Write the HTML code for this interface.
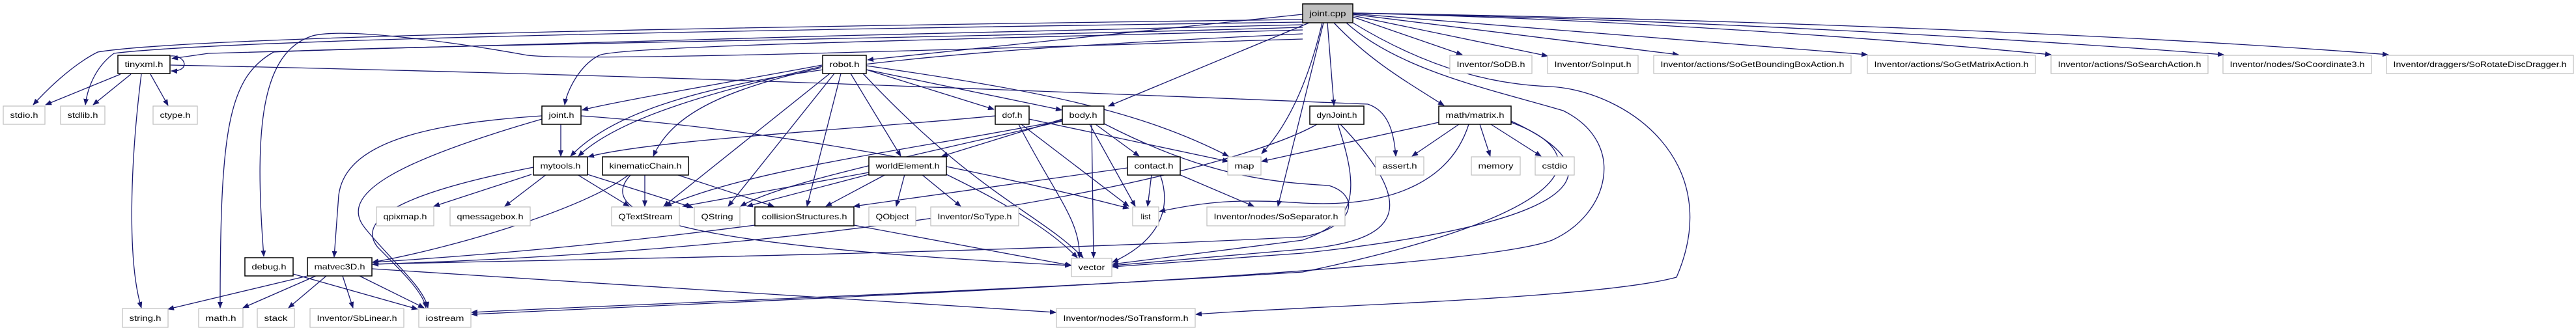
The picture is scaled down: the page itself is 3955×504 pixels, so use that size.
<!DOCTYPE html>
<html><head><meta charset="utf-8"><style>
html,body{margin:0;padding:0;background:#fff;}
svg{display:block;}
text{font-family:"Liberation Sans",sans-serif;font-size:12px;fill:#000;}
.e{fill:none;stroke:#191970;stroke-width:1.3;marker-end:url(#a);}
.b{fill:#fff;stroke:#000;stroke-width:1.5;}
.g{fill:#fff;stroke:#bfbfbf;stroke-width:1.2;}
</style></head><body>
<svg width="3955" height="504" viewBox="0 0 3955 504" xmlns="http://www.w3.org/2000/svg">
<defs><marker id="a" markerWidth="10" markerHeight="8" refX="9" refY="4" orient="auto" markerUnits="userSpaceOnUse"><path d="M0,0 L10,4 L0,8 z" fill="#191970"/></marker></defs>
<g>
<!-- from joint.cpp left -->
<path class="e" d="M2000,30 C1200,40 300,55 150,80 C110,100 70,140 51,161"/>
<path class="e" d="M2000,34 C1200,45 350,60 175,82 C150,100 135,130 131,161"/>
<path class="e" d="M2000,38 C1500,50 400,75 320,82 L264,90"/>
<path class="e" d="M2000,42 C1400,60 600,70 420,80 C350,120 338,200 338,473"/>
<path class="e" d="M2000,60 C1500,75 900,95 810,85 C700,65 530,42 480,55 C400,80 390,200 405,394"/>
<path class="e" d="M2000,46 C1500,60 950,70 920,85 C890,100 870,140 867,161"/>
<path class="e" d="M2000,52 C1400,80 1000,110 876,240"/>
<path class="e" d="M2000,22 L1332,92"/>
<path class="e" d="M2010,35 L1702,163"/>
<path class="e" d="M2038,35 L2048,162"/>
<path class="e" d="M2048,35 C2100,90 2150,120 2217,162"/>
<path class="e" d="M2030,35 C2010,120 1980,190 1937,236"/>
<path class="e" d="M2032,35 L1962,317"/>
<path class="e" d="M2067,35 C2150,110 2300,140 2400,170 C2500,220 2470,330 2383,369 C2250,420 1200,460 724,483"/>
<path class="e" d="M2077,35 C2200,110 2300,130 2380,133 C2500,140 2650,250 2574,426 C2450,460 2000,470 1836,483"/>
<!-- joint.cpp right -->
<path class="e" d="M2077,26 L2245,84"/>
<path class="e" d="M2077,24 L2376,86"/>
<path class="e" d="M2077,22 L2577,84"/>
<path class="e" d="M2077,21 L2867,84"/>
<path class="e" d="M2077,20 C2500,30 2900,60 3149,84"/>
<path class="e" d="M2077,20 C2600,30 3100,60 3414,84"/>
<path class="e" d="M2077,20 C2700,30 3300,55 3667,84"/>
<!-- tinyxml -->
<path class="e" d="M262,86 C285,84 294,110 263,109"/>
<path class="e" d="M185,114 L70,161"/>
<path class="e" d="M201,114 L143,161"/>
<path class="e" d="M231,114 L258,162"/>
<path class="e" d="M217,114 C200,250 195,400 217,473"/>
<path class="e" d="M262,100 C1000,115 1600,140 2100,160 C2130,170 2140,200 2143,240"/>
<!-- joint.h -->
<path class="e" d="M861,191 L861,240"/>
<path class="e" d="M832,178 C650,190 530,220 520,300 L513,395"/>
<path class="e" d="M832,183 C600,250 520,300 560,350 C600,400 650,440 657,473"/>
<path class="e" d="M892,178 C1200,200 1500,260 1733,320"/>
<path class="e" d="M1262,100 C1100,130 950,155 894,169"/>
<path class="e" d="M1262,102 C1100,140 950,180 888,240"/>
<path class="e" d="M1528,178 C1300,200 1000,215 903,241"/>
<!-- mytools -->
<path class="e" d="M816,268 L666,317"/>
<path class="e" d="M839,268 L775,317"/>
<path class="e" d="M886,268 L966,317"/>
<path class="e" d="M902,268 L1064,319"/>
<path class="e" d="M819,257 C650,290 540,330 580,380 C620,420 650,450 654,473"/>
<!-- kinematicChain -->
<path class="e" d="M966,268 C900,320 700,380 572,403"/>
<path class="e" d="M990,268 L990,317"/>
<path class="e" d="M969,268 C900,340 1100,380 1644,408"/>
<path class="e" d="M1038,268 L1188,317"/>
<path class="e" d="M1261,104 C1100,140 1030,180 1003,240"/>
<!-- matvec3D -->
<path class="e" d="M472,424 L258,475"/>
<path class="e" d="M485,424 L373,473"/>
<path class="e" d="M501,424 L443,473"/>
<path class="e" d="M526,424 L542,473"/>
<path class="e" d="M552,424 L651,473"/>
<path class="e" d="M571,413 L1621,480"/>
<path class="e" d="M450,421 L641,475"/>
<path class="e" d="M1159,346 C900,380 700,395 572,403"/>
<path class="e" d="M1311,346 L1645,408"/>
<!-- robot -->
<path class="e" d="M1330,107 L1526,168"/>
<path class="e" d="M1330,107 L1630,169"/>
<path class="e" d="M1330,101 C1600,140 1750,170 1886,240"/>
<path class="e" d="M1306,113 L1383,240"/>
<path class="e" d="M1291,113 L1239,317"/>
<path class="e" d="M1281,113 L1118,317"/>
<path class="e" d="M1274,113 L1019,317"/>
<path class="e" d="M1325,113 C1500,300 1600,330 1663,396"/>
<!-- dof -->
<path class="e" d="M1568,191 L1733,317"/>
<path class="e" d="M1564,191 C1620,300 1660,340 1657,396"/>
<path class="e" d="M1580,183 L1886,248"/>
<!-- body -->
<path class="e" d="M1631,183 L1446,240"/>
<path class="e" d="M1631,185 C1400,230 1150,260 1022,317"/>
<path class="e" d="M1631,186 C1400,240 1200,280 1137,317"/>
<path class="e" d="M1682,191 L1749,240"/>
<path class="e" d="M1673,191 L1743,317"/>
<path class="e" d="M1676,191 L1679,396"/>
<path class="e" d="M1695,190 C1850,270 1950,280 2040,285 C2090,300 2080,350 2000,364 C1500,390 800,400 572,406"/>
<!-- worldElement -->
<path class="e" d="M1334,265 L1048,317"/>
<path class="e" d="M1334,268 L1147,317"/>
<path class="e" d="M1360,268 L1268,317"/>
<path class="e" d="M1389,268 L1376,317"/>
<path class="e" d="M1415,268 L1475,317"/>
<path class="e" d="M1453,268 C1560,320 1620,360 1654,396"/>
<!-- contact -->
<path class="e" d="M1731,258 L1311,317"/>
<path class="e" d="M1768,268 L1762,317"/>
<path class="e" d="M1810,268 L1925,317"/>
<path class="e" d="M1781,268 C1800,320 1780,370 1708,403"/>
<!-- matrix -->
<path class="e" d="M2209,188 L1937,248"/>
<path class="e" d="M2240,191 L2168,240"/>
<path class="e" d="M2272,191 L2288,240"/>
<path class="e" d="M2289,191 L2366,240"/>
<path class="e" d="M2255,191 C2230,270 2150,320 2000,312 C1900,305 1850,310 1780,325"/>
<path class="e" d="M2320,186 C2480,260 2450,340 2000,389 L1708,410"/>
<path class="e" d="M2320,188 C2460,240 2420,330 2000,418 C1500,450 900,470 724,480"/>
<!-- dynjoint -->
<path class="e" d="M2022,191 C1900,260 1400,380 572,406"/>
<path class="e" d="M2054,191 C2090,300 2080,340 2000,369 L1708,406"/>
<path class="e" d="M2058,191 C2180,320 2150,370 2000,383 L1708,408"/>
</g>
<g>
<rect x="2000" y="6" width="77" height="29" fill="#bfbfbf" stroke="#000" stroke-width="1.5"/><text x="2038.5" y="25" text-anchor="middle" textLength="56" lengthAdjust="spacingAndGlyphs">joint.cpp</text>
<rect class="b" x="181" y="85" width="80" height="28"/><text x="221" y="103" text-anchor="middle" textLength="59" lengthAdjust="spacingAndGlyphs">tinyxml.h</text>
<rect class="b" x="1263" y="85" width="67" height="28"/><text x="1296.5" y="103" text-anchor="middle" textLength="46" lengthAdjust="spacingAndGlyphs">robot.h</text>
<rect class="g" x="2226" y="85" width="126" height="28"/><text x="2289" y="103" text-anchor="middle" textLength="105" lengthAdjust="spacingAndGlyphs">Inventor/SoDB.h</text>
<rect class="g" x="2376" y="85" width="139" height="28"/><text x="2445.5" y="103" text-anchor="middle" textLength="118" lengthAdjust="spacingAndGlyphs">Inventor/SoInput.h</text>
<rect class="g" x="2539" y="85" width="303" height="28"/><text x="2690.5" y="103" text-anchor="middle" textLength="282" lengthAdjust="spacingAndGlyphs">Inventor/actions/SoGetBoundingBoxAction.h</text>
<rect class="g" x="2867" y="85" width="258" height="28"/><text x="2996" y="103" text-anchor="middle" textLength="237" lengthAdjust="spacingAndGlyphs">Inventor/actions/SoGetMatrixAction.h</text>
<rect class="g" x="3149" y="85" width="241" height="28"/><text x="3269.5" y="103" text-anchor="middle" textLength="220" lengthAdjust="spacingAndGlyphs">Inventor/actions/SoSearchAction.h</text>
<rect class="g" x="3413" y="85" width="228" height="28"/><text x="3527" y="103" text-anchor="middle" textLength="207" lengthAdjust="spacingAndGlyphs">Inventor/nodes/SoCoordinate3.h</text>
<rect class="g" x="3664" y="85" width="287" height="28"/><text x="3807.5" y="103" text-anchor="middle" textLength="266" lengthAdjust="spacingAndGlyphs">Inventor/draggers/SoRotateDiscDragger.h</text>

<rect class="g" x="5" y="163" width="64" height="28"/><text x="37" y="181" text-anchor="middle" textLength="43" lengthAdjust="spacingAndGlyphs">stdio.h</text>
<rect class="g" x="93" y="163" width="68" height="28"/><text x="127" y="181" text-anchor="middle" textLength="47" lengthAdjust="spacingAndGlyphs">stdlib.h</text>
<rect class="g" x="235" y="163" width="68" height="28"/><text x="269" y="181" text-anchor="middle" textLength="47" lengthAdjust="spacingAndGlyphs">ctype.h</text>
<rect class="b" x="832" y="163" width="60" height="28"/><text x="862" y="181" text-anchor="middle" textLength="39" lengthAdjust="spacingAndGlyphs">joint.h</text>
<rect class="b" x="1528" y="163" width="52" height="28"/><text x="1554" y="181" text-anchor="middle" textLength="31" lengthAdjust="spacingAndGlyphs">dof.h</text>
<rect class="b" x="1631" y="163" width="64" height="28"/><text x="1663" y="181" text-anchor="middle" textLength="43" lengthAdjust="spacingAndGlyphs">body.h</text>
<rect class="b" x="2011" y="163" width="83" height="28"/><text x="2052.5" y="181" text-anchor="middle" textLength="62" lengthAdjust="spacingAndGlyphs">dynJoint.h</text>
<rect class="b" x="2209" y="163" width="111" height="28"/><text x="2264.5" y="181" text-anchor="middle" textLength="90" lengthAdjust="spacingAndGlyphs">math/matrix.h</text>

<rect class="b" x="819" y="241" width="83" height="28"/><text x="860.5" y="259" text-anchor="middle" textLength="62" lengthAdjust="spacingAndGlyphs">mytools.h</text>
<rect class="b" x="925" y="241" width="132" height="28"/><text x="991" y="259" text-anchor="middle" textLength="111" lengthAdjust="spacingAndGlyphs">kinematicChain.h</text>
<rect class="b" x="1334" y="241" width="119" height="28"/><text x="1393.5" y="259" text-anchor="middle" textLength="98" lengthAdjust="spacingAndGlyphs">worldElement.h</text>
<rect class="b" x="1731" y="241" width="81" height="28"/><text x="1771.5" y="259" text-anchor="middle" textLength="60" lengthAdjust="spacingAndGlyphs">contact.h</text>
<rect class="g" x="1885" y="241" width="51" height="28"/><text x="1910.5" y="259" text-anchor="middle" textLength="30" lengthAdjust="spacingAndGlyphs">map</text>
<rect class="g" x="2112" y="241" width="74" height="28"/><text x="2149" y="259" text-anchor="middle" textLength="53" lengthAdjust="spacingAndGlyphs">assert.h</text>
<rect class="g" x="2259" y="241" width="75" height="28"/><text x="2296.5" y="259" text-anchor="middle" textLength="54" lengthAdjust="spacingAndGlyphs">memory</text>
<rect class="g" x="2357" y="241" width="60" height="28"/><text x="2387" y="259" text-anchor="middle" textLength="39" lengthAdjust="spacingAndGlyphs">cstdio</text>

<rect class="g" x="578" y="318" width="88" height="29"/><text x="622" y="337" text-anchor="middle" textLength="67" lengthAdjust="spacingAndGlyphs">qpixmap.h</text>
<rect class="g" x="691" y="318" width="123" height="29"/><text x="752.5" y="337" text-anchor="middle" textLength="102" lengthAdjust="spacingAndGlyphs">qmessagebox.h</text>
<rect class="g" x="939" y="318" width="104" height="29"/><text x="991" y="337" text-anchor="middle" textLength="83" lengthAdjust="spacingAndGlyphs">QTextStream</text>
<rect class="g" x="1066" y="318" width="70" height="29"/><text x="1101" y="337" text-anchor="middle" textLength="49" lengthAdjust="spacingAndGlyphs">QString</text>
<rect class="b" x="1159" y="318" width="152" height="29"/><text x="1235" y="337" text-anchor="middle" textLength="131" lengthAdjust="spacingAndGlyphs">collisionStructures.h</text>
<rect class="g" x="1334" y="318" width="72" height="29"/><text x="1370" y="337" text-anchor="middle" textLength="51" lengthAdjust="spacingAndGlyphs">QObject</text>
<rect class="g" x="1429" y="318" width="135" height="29"/><text x="1496.5" y="337" text-anchor="middle" textLength="114" lengthAdjust="spacingAndGlyphs">Inventor/SoType.h</text>
<rect class="g" x="1739" y="318" width="40" height="29"/><text x="1759" y="337" text-anchor="middle" textLength="15" lengthAdjust="spacingAndGlyphs">list</text>
<rect class="g" x="1853" y="318" width="212" height="29"/><text x="1959" y="337" text-anchor="middle" textLength="191" lengthAdjust="spacingAndGlyphs">Inventor/nodes/SoSeparator.h</text>

<rect class="b" x="376" y="396" width="74" height="28"/><text x="413" y="414" text-anchor="middle" textLength="53" lengthAdjust="spacingAndGlyphs">debug.h</text>
<rect class="b" x="472" y="396" width="99" height="28"/><text x="521.5" y="414" text-anchor="middle" textLength="78" lengthAdjust="spacingAndGlyphs">matvec3D.h</text>
<rect class="g" x="1645" y="397" width="62" height="28"/><text x="1676" y="415" text-anchor="middle" textLength="41" lengthAdjust="spacingAndGlyphs">vector</text>

<rect class="g" x="188" y="474" width="70" height="29"/><text x="223" y="493" text-anchor="middle" textLength="49" lengthAdjust="spacingAndGlyphs">string.h</text>
<rect class="g" x="305" y="474" width="68" height="29"/><text x="339" y="493" text-anchor="middle" textLength="47" lengthAdjust="spacingAndGlyphs">math.h</text>
<rect class="g" x="395" y="474" width="57" height="29"/><text x="423.5" y="493" text-anchor="middle" textLength="36" lengthAdjust="spacingAndGlyphs">stack</text>
<rect class="g" x="476" y="474" width="144" height="29"/><text x="548" y="493" text-anchor="middle" textLength="123" lengthAdjust="spacingAndGlyphs">Inventor/SbLinear.h</text>
<rect class="g" x="643" y="474" width="80" height="29"/><text x="683" y="493" text-anchor="middle" textLength="59" lengthAdjust="spacingAndGlyphs">iostream</text>
<rect class="g" x="1622" y="474" width="213" height="29"/><text x="1728.5" y="493" text-anchor="middle" textLength="192" lengthAdjust="spacingAndGlyphs">Inventor/nodes/SoTransform.h</text>
</g>
</svg>
</body></html>
